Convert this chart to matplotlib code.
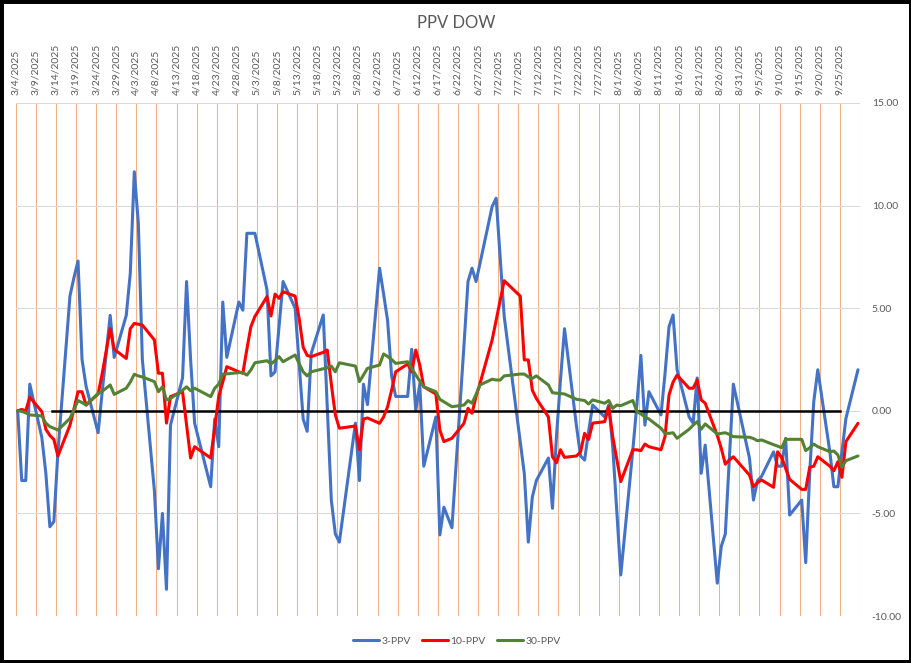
import numpy as np
import pandas as pd
import matplotlib
matplotlib.use('Agg')
import matplotlib.pyplot as plt
from matplotlib.patches import Rectangle

plt.rcParams['font.family'] = ['Lato', 'DejaVu Sans']

# trading days (NYSE holidays skipped)
holidays = ['2025-04-18', '2025-05-26', '2025-06-19', '2025-07-04', '2025-09-01']
days = pd.bdate_range('2025-03-04', '2025-09-29', freq='C', holidays=holidays)

ppv3 = [
    # Mar
    0.0, -3.4, -3.4, 1.3, -1.3, -3.05, -5.65, -5.4, -2.0, 5.6, 6.5, 7.3, 2.5, 1.2, -1.07, 0.9, 2.8, 4.65, 2.6, 4.65,
    # Apr
    6.7, 11.65, 9.15, 2.5, -3.9, -7.7, -5.0, -8.7, -0.7, 1.6, 6.3, 2.5, -0.6, -3.7, -0.4, -1.75, 5.3, 2.6, 5.3, 4.9, 8.65,
    # May
    8.65, 8.65, 5.9, 1.7, 1.9, 4.1, 6.3, 5.0, 2.3, -0.4, -1.0, 2.8, 4.67, 0.2, -4.35, -6.0, -6.4, -0.6, -3.4, 1.3, 0.3,
    # Jun
    6.95, 5.7, 4.4, 1.7, 0.7, 0.7, 3.0, 0.0, 1.3, -2.7, -0.3, -6.05, -4.7, -5.7, 3.2, 6.3, 6.95, 6.3, 7.2, 9.95,
    # Jul
    10.36, 7.5, 4.6, -1.5, -3.05, -6.4, -4.2, -3.4, -2.3, -4.75, -1.26, 1.5, 4.0, -0.77, -2.2, -2.4, -1.0, 0.28,
    -0.3, 0.28, -1.75, -4.9,
    # Aug
    -8.0, -1.9, 0.3, 2.7, -0.7, 0.93, -0.2, 1.8, 4.1, 4.67, 2.0, -0.3, -0.6, 1.6, -3.05, -1.67, -8.4, -6.6, -6.0, -2.3, 1.3,
    # Sep
    -2.3, -4.35, -3.4, -3.2, -2.0, -2.7, -2.7, -1.34, -5.08, -4.35, -7.4, -3.0, 0.44, 2.0, -2.0, -3.7, -3.7, -2.0, -0.37, 2.0,
]

ppv10 = [
    0.0, 0.07, 0.0, 0.66, -0.04, -0.9, -1.2, -1.4, -2.2, -0.7, 0.1, 0.93, 0.93, 0.28, 0.82, 1.8, 2.9, 4.0, 3.0, 2.55,
    4.0, 4.26, 4.22, 4.18, 3.45, 1.83, 1.83, -0.6, 0.69, 0.93, -0.7, -2.3, -1.75, -2.3, -0.8, 0.7, 1.4, 2.15, 1.9, 1.83, 3.0,
    4.1, 4.6, 5.56, 4.62, 5.69, 5.48, 5.8, 5.59, 4.5, 3.1, 2.7, 2.64, 2.85, 2.96, 1.3, -0.2, -0.85, -0.74, -1.9, -0.4, -0.35,
    -0.61, -0.3, 0.2, 1.0, 1.9, 2.28, 1.9, 2.96, 2.23, 1.17, 0.82, -0.94, -1.5, -1.34, -0.61, 0.12, -0.12, 0.7, 1.34, 3.45,
    4.42, 5.4, 6.34, 5.59, 2.48, 2.48, 1.0, 0.6, -0.3, -2.24, -2.53, -1.9, -2.27, -2.2, -2.0, -1.1, -1.4, -0.6,
    -0.53, 0.2, -1.26, -2.35,
    -3.45, -1.9, -1.9, -1.94, -1.62, -1.75, -1.9, -1.26, 0.77, 1.4, 1.74, 1.1, 1.1, 1.5, 0.53, 0.37, -1.2, -1.83, -2.6, -2.4, -2.24,
    -3.13, -3.7, -3.5, -3.37, -3.73, -2.0, -2.27, -2.8, -3.34, -3.83, -3.83, -2.75, -2.7, -2.24, -2.7, -2.92, -2.48, -3.24, -1.5, -0.61,
]

ppv30 = [
    0.0, -0.03, -0.1, -0.2, -0.25, -0.6, -0.77, -0.85, -0.94, -0.37, 0.05, 0.5, 0.4, 0.28, 0.85, 0.95, 1.1, 1.26, 0.8, 1.1,
    1.4, 1.78, 1.7, 1.65, 1.42, 0.93, 1.17, 0.53, 0.6, 1.0, 1.17, 0.98, 1.1, 0.69, 1.1, 1.3, 1.78, 1.8, 1.86, 1.86, 1.74,
    1.99, 2.34, 2.44, 2.28, 2.45, 2.64, 2.39, 2.72, 2.3, 1.9, 1.7, 1.9, 2.05, 2.1, 2.18, 1.9, 2.34, 2.18, 1.42, 1.75, 2.07,
    2.23, 2.77, 2.65, 2.5, 2.31, 2.39, 2.07, 1.75, 1.45, 1.17, 0.93, 0.56, 0.44, 0.2, 0.28, 0.5, 0.37, 0.8, 1.26, 1.54,
    1.5, 1.5, 1.7, 1.79, 1.79, 1.65, 1.58, 1.7, 1.26, 0.88, 0.86, 0.84, 0.82, 0.56, 0.53, 0.5, 0.33, 0.53, 0.37, 0.5, 0.12, 0.28,
    0.25, 0.5, -0.04, -0.15, -0.3, -0.4, -0.85, -1.1, -1.1, -1.07, -1.34, -0.9, -0.7, -0.53, -0.9, -0.64, -1.13, -1.1, -1.07, -1.15, -1.26,
    -1.29, -1.35, -1.46, -1.42, -1.65, -1.72, -1.8, -1.39, -1.39, -1.39, -1.94, -1.8, -1.62, -1.75, -1.99, -1.96, -2.15, -2.75, -2.43, -2.2,
]

zero_dates = pd.to_datetime(['2025-03-13', '2025-09-25'])
zero_vals = [0, 0]

tick_dates = pd.date_range('2025-03-04', '2025-09-30', freq='5D')
tick_labels = [f'{d.month}/{d.day}/{d.year}' for d in tick_dates[:-1]] + ['']

# excel date axis puts each point in the middle of its day
x = days + pd.Timedelta(hours=12)

W, H = 912, 663
fig = plt.figure(figsize=(W / 100, H / 100), dpi=100)
ax = fig.add_axes([15.7 / W, 47 / H, (860 - 15.7) / W, (616 - 103) / H])

txt = '#595959'
lw = 2.2
style = dict(lw=lw, solid_joinstyle='round', solid_capstyle='round')
ax.plot(x, ppv3, color='#4472C4', label='3-PPV', zorder=3, **style)
ax.plot(zero_dates, zero_vals, color='black', lw=1.8, zorder=3.5)
ax.plot(x, ppv10, color='#FF0000', label='10-PPV', zorder=4, **style)
ax.plot(x, ppv30, color='#548235', label='30-PPV', zorder=5, **style)

ax.set_xlim(tick_dates[0], tick_dates[-1])
ax.set_ylim(-10, 15)
ax.set_yticks(np.arange(-10, 16, 5))
ax.set_yticklabels([f'{v:.2f}' for v in np.arange(-10, 16, 5)])
ax.set_xticks(tick_dates)
ax.set_xticklabels(tick_labels, rotation=90)

ax.xaxis.tick_top()
ax.yaxis.tick_right()
ax.tick_params(axis='x', length=0, pad=5.5, labelsize=7.5, labelcolor=txt)
ax.tick_params(axis='y', length=0, pad=8.5, labelsize=7.5, labelcolor=txt)
for lab in ax.get_yticklabels():
    lab.set_horizontalalignment('left')

ax.grid(axis='x', color='#F4B183', lw=0.75)
ax.grid(axis='y', color='#D9D9D9', lw=0.75)
ax.set_axisbelow(True)
for s in ax.spines.values():
    s.set_visible(False)

fig.text(456 / W, 1 - 22.5 / H, 'PPV DOW', ha='center', va='center', fontsize=12, color=txt)

leg = fig.legend(*ax.get_legend_handles_labels(), loc='center', bbox_to_anchor=(457 / W, 22 / H),
                 ncol=3, frameon=False, fontsize=7.5, handlelength=2.5, handletextpad=0.2,
                 columnspacing=1.1)
for t in leg.get_texts():
    t.set_color(txt)

fig.patches.append(Rectangle((0, 0), 1, 1, transform=fig.transFigure, fill=False,
                             ec='black', lw=5, zorder=10))

fig.savefig('out.png', dpi=100)
